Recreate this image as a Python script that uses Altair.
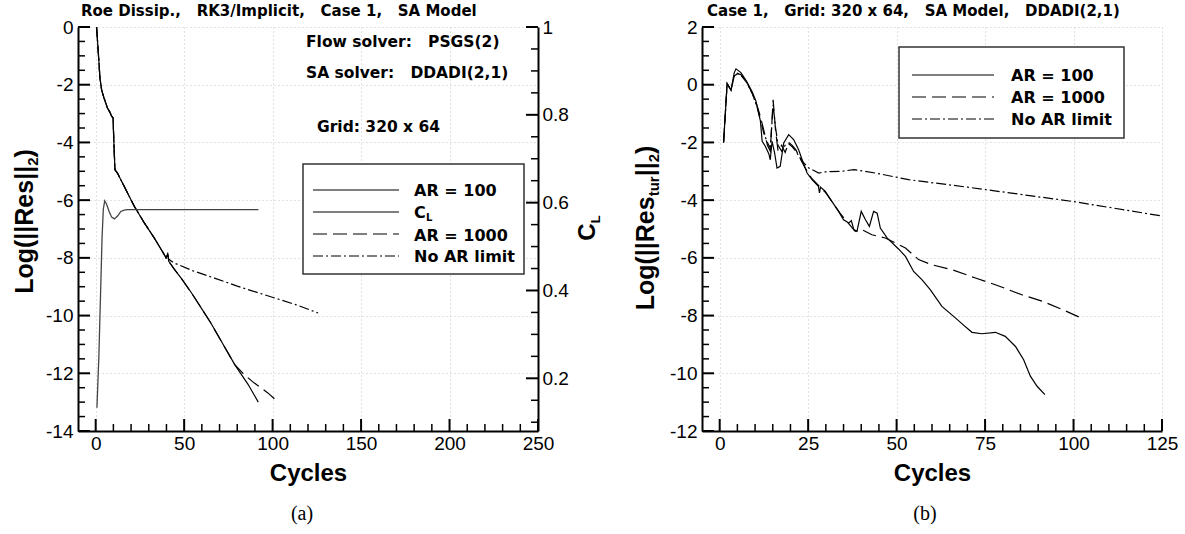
import altair as alt
import pandas as pd

FONT = "Liberation Sans"
TFONT = "DejaVu Sans"
W, H = 460, 404

# ---------------- panel (a) data ----------------
a_ar100_cycles = [0.5, 1.5, 2.4, 3.4, 4.7, 6.6, 8.0, 9.1, 9.8, 10.4, 10.9, 12.3, 14.2, 18.0, 21.8, 27.5, 33.1, 38.8,
                  39.8, 40.7, 41.3, 44.5, 48.3, 54.0, 59.7, 65.0, 71.0, 78.6, 86.2, 91.9]
a_ar100_res = [0.0, -0.9, -1.77, -2.2, -2.46, -2.8, -2.95, -3.1, -3.15, -4.2, -4.95, -5.06, -5.29, -5.75, -6.21, -6.79,
               -7.31, -7.89, -8.0, -7.87, -8.12, -8.4, -8.7, -9.2, -9.74, -10.25, -10.89, -11.7, -12.39, -13.0]

a_ar1000_cycles = [0.5, 1.5, 2.4, 3.4, 4.7, 6.6, 8.0, 9.1, 9.8, 10.4, 10.9, 12.3, 14.2, 18.0, 21.8, 27.5, 33.1, 38.8,
                   39.8, 40.7, 41.3, 44.5, 48.3, 54.0, 59.7, 65.0, 71.0, 78.6, 84.0, 89.7, 97.3, 102.6]
a_ar1000_res = [0.0, -0.9, -1.77, -2.2, -2.46, -2.8, -2.95, -3.1, -3.15, -4.2, -4.95, -5.06, -5.29, -5.75, -6.21, -6.79,
                -7.31, -7.89, -8.0, -7.87, -8.12, -8.4, -8.7, -9.2, -9.74, -10.25, -10.89, -11.7, -12.05, -12.34,
                -12.68, -12.97]

a_noar_cycles = [0.5, 1.5, 2.4, 3.4, 4.7, 6.6, 8.0, 9.1, 9.8, 10.4, 10.9, 12.3, 14.2, 18.0, 21.8, 27.5, 33.1, 38.8,
                 39.8, 40.7, 41.3, 44.4, 55.0, 67.1, 80.0, 101.1, 113.0, 125.7]
a_noar_res = [0.0, -0.9, -1.77, -2.2, -2.46, -2.8, -2.95, -3.1, -3.15, -4.2, -4.95, -5.06, -5.29, -5.75, -6.21, -6.79,
              -7.31, -7.89, -8.0, -7.87, -8.05, -8.18, -8.45, -8.70, -8.98, -9.39, -9.62, -9.91]

a_cl_cycles = [0.7, 1.8, 2.8, 3.6, 4.3, 5.1, 6.0, 7.6, 9.0, 10.6, 12.5, 14.2, 16.0, 18.0, 25.0, 92.0]
a_cl = [0.133, 0.25, 0.40, 0.52, 0.585, 0.604, 0.598, 0.58, 0.567, 0.563, 0.57, 0.58, 0.583, 0.584, 0.584, 0.584]

a_x_major = [0, 50, 100, 150, 200, 250]
a_y_major = [0, -2, -4, -6, -8, -10, -12, -14]
a_cl_major = [0.2, 0.4, 0.6, 0.8, 1.0]

# ---------------- panel (b) data ----------------
b_ar100_cycles = [1.1, 2.1, 3.2, 4.1, 4.6, 6.0, 7.6, 9.2, 10.2, 11.5, 12.0, 12.9, 13.9, 14.3, 14.8, 15.5, 16.2, 17.1,
                  18.1, 19.5, 20.9, 22.3, 23.3, 24.7, 26.1, 27.9, 28.2, 28.5, 29.8, 31.7, 33.6, 35.0, 36.5, 37.2,
                  37.9, 38.8, 40.0, 41.2, 42.3, 43.5, 44.5, 45.4, 47.3, 50.6, 52.5, 54.8, 57.2, 59.5, 62.8, 66.6,
                  69.0, 71.3, 74.1, 77.9, 80.7, 83.6, 85.9, 87.8, 89.7, 91.9]
b_ar100_res = [-2.0, 0.04, -0.19, 0.41, 0.55, 0.42, 0.12, -0.25, -0.55, -1.25, -1.96, -2.13, -2.4, -2.6, -1.96,
               -2.35, -2.89, -2.83, -2.02, -1.73, -1.9, -2.25, -2.6, -3.06, -3.29, -3.52, -3.75, -3.55, -3.69, -4.04,
               -4.39, -4.68, -4.79, -4.71, -5.02, -5.08, -4.39, -4.68, -4.91, -4.39, -4.45, -4.97, -5.31, -5.7,
               -5.95, -6.47, -6.76, -7.1, -7.68, -8.08, -8.34, -8.58, -8.63, -8.58, -8.72, -9.07, -9.53, -10.1,
               -10.45, -10.74]

b_ar1000_cycles = [1.1, 2.1, 3.2, 4.1, 5.0, 6.0, 7.6, 9.2, 10.5, 11.5, 12.5, 13.5, 14.3, 15.1, 15.8, 16.5, 17.5,
                   18.5, 19.5, 20.5, 21.5, 22.5, 24.0, 26.0, 28.0, 30.0, 32.0, 34.0, 36.0, 38.3, 40.2, 43.0, 46.8,
                   52.5, 56.2, 60.0, 65.7, 72.3, 77.9, 85.4, 91.1, 97.0, 102.8]
b_ar1000_res = [-2.0, 0.04, -0.19, 0.3, 0.38, 0.35, 0.1, -0.3, -0.7, -1.1, -1.6, -2.1, -2.3, -0.52, -1.6, -2.3,
                -2.1, -2.35, -2.0, -2.1, -2.25, -2.5, -2.85, -3.25, -3.5, -3.75, -4.1, -4.45, -4.75, -5.08, -5.02,
                -5.2, -5.31, -5.66, -6.06, -6.24, -6.41, -6.7, -6.93, -7.28, -7.5, -7.8, -8.12]

b_noar_cycles = [1.1, 2.1, 3.2, 4.1, 5.0, 6.0, 7.6, 9.2, 10.5, 11.5, 12.5, 13.5, 14.3, 15.1, 15.8, 16.5, 17.5, 18.5,
                 19.5, 20.5, 21.5, 22.5, 23.3, 25.2, 28.0, 29.8, 34.6, 37.9, 44.0, 53.4, 70.0, 100.0, 125.0]
b_noar_res = [-2.0, 0.04, -0.19, 0.3, 0.4, 0.33, 0.08, -0.3, -0.75, -1.2, -1.7, -2.0, -2.2, -0.7, -1.5, -2.1, -2.3,
              -2.1, -2.05, -2.15, -2.3, -2.5, -2.65, -2.89, -3.06, -3.02, -3.0, -2.94, -3.06, -3.29, -3.55, -4.05,
              -4.55]

b_x_major = [0, 25, 50, 75, 100, 125]
b_y_major = [2, 0, -2, -4, -6, -8, -10, -12]

# minor tick positions
a_x_minor = [v for v in range(0, 251, 10) if v % 50]
a_y_minor = [-14 + 0.5 * i for i in range(29) if i % 4]
a_cl_minor = [round(0.1 + 0.05 * i, 2) for i in range(19) if round(0.1 + 0.05 * i, 2) not in a_cl_major]
b_x_minor = [v for v in range(0, 126, 5) if v % 25]
b_y_minor = [-12 + 0.5 * i for i in range(29) if i % 4]

DUMMY = pd.DataFrame({"k": [0]})
DASH = [14, 6]
DASHDOT = [10, 3, 2, 3]
GAP = " \u00a0\u00a0"

AW = {"L": 611, "o": 611, "g": 611, "(": 333, ")": 333, "|": 280, "R": 722, "e": 556, "s": 556,
      "t": 333, "u": 611, "r": 389, "2": 556, "C": 722}


def wtext(s, size):
    return sum(AW[c] for c in s) * size / 1000.0


def series(cyc, val):
    return pd.DataFrame({"cycle": cyc, "value": val})


AX = dict(domainColor="black", domainWidth=2, ticks=False, labelFont=FONT, labelFontSize=19,
          labelColor="black", labelFlush=False, labelOverlap=False, labelExpr="toString(datum.value)")
GRID = dict(grid=True, gridColor="#c4c4c4", gridDash=[1, 3], gridWidth=1)


def line(df, xs, ys, dash=None, color="black", width=1.2, xaxis=alt.Undefined, yaxis=alt.Undefined):
    kw = dict(color=color, strokeWidth=width)
    if dash:
        kw["strokeDash"] = dash
    return alt.Chart(df).mark_line(**kw).encode(
        x=alt.X("cycle:Q", scale=xs, axis=xaxis),
        y=alt.Y("value:Q", scale=ys, axis=yaxis),
    )


def xticks(vals, xs, length, width):
    return alt.Chart(pd.DataFrame({"t": vals})).mark_rule(color="black", strokeWidth=width).encode(
        x=alt.X("t:Q", scale=xs), y=alt.value(H), y2=alt.value(H - length))


def yticks(vals, ys, length, width, right=False):
    x0 = W if right else 0
    x1 = W - length if right else length
    return alt.Chart(pd.DataFrame({"t": vals})).mark_rule(color="black", strokeWidth=width).encode(
        y=alt.Y("t:Q", scale=ys), x=alt.value(x0), x2=alt.value(x1))


def txt(s, x, y, size, weight="bold", align="left", baseline="alphabetic", angle=0, font=FONT):
    props = dict(text=s, fontSize=size, fontWeight=weight, align=align, baseline=baseline, font=font,
                 color="black")
    if angle:
        props["angle"] = angle
    return alt.Chart(DUMMY).mark_text(**props).encode(x=alt.value(x), y=alt.value(y))


def vtitle(parts, bx, cy, main=25):
    total = sum(wtext(s, sz) for s, sz, sub in parts)
    y = cy + total / 2
    out = []
    for s, sz, sub in parts:
        out.append(txt(s, bx + (0.2 * main if sub else 0), y, sz, angle=270))
        y -= wtext(s, sz)
    return out


def box(x1, x2, y1, y2):
    return alt.Chart(DUMMY).mark_rect(fill="white", stroke="#333333", strokeWidth=1.5).encode(
        x=alt.value(x1), x2=alt.value(x2), y=alt.value(y1), y2=alt.value(y2))


def sample(x1, x2, y, dash=None):
    kw = dict(color="black", strokeWidth=1.2)
    if dash:
        kw["strokeDash"] = dash
    return alt.Chart(DUMMY).mark_rule(**kw).encode(x=alt.value(x1), x2=alt.value(x2), y=alt.value(y))


def xaxis_def(values):
    return alt.Axis(values=values, labelPadding=3, title="Cycles", titleFont=FONT, titleFontSize=24,
                    titleFontWeight="bold", titleColor="black", titleY=49, titleBaseline="alphabetic",
                    **AX, **GRID)


# ---------------- panel (a) ----------------
xs_a = alt.Scale(domain=[-10, 250], nice=False, zero=False)
ys_a = alt.Scale(domain=[-14, 0], nice=False, zero=False)
cl_s = alt.Scale(domain=[0.08, 1.0], nice=False, zero=False)

yaxis_a = alt.Axis(values=a_y_major, labelPadding=5, title=None, **AX, **GRID)
claxis = alt.Axis(orient="right", values=a_cl_major, labelPadding=4, title=None, grid=False, **AX)

resid_a = alt.layer(
    line(series(a_ar100_cycles, a_ar100_res), xs_a, ys_a, xaxis=xaxis_def(a_x_major), yaxis=yaxis_a),
    line(series(a_ar1000_cycles, a_ar1000_res), xs_a, ys_a, dash=DASH),
    line(series(a_noar_cycles, a_noar_res), xs_a, ys_a, dash=DASHDOT),
    xticks(a_x_major, xs_a, 12, 2),
    xticks(a_x_minor, xs_a, 7, 1.5),
    yticks(a_y_major, ys_a, 12, 2),
    yticks(a_y_minor, ys_a, 7, 1.5),
    box(225, 446, 137, 247),
    sample(235, 321, 163),
    sample(235, 321, 185),
    sample(235, 321, 207, DASH),
    sample(235, 321, 229, DASHDOT),
    txt("AR = 100", 336, 169, 16, font=TFONT),
    txt("C", 336, 191, 16, font=TFONT),
    txt("L", 348, 194, 10, font=TFONT),
    txt("AR = 1000", 336, 214, 16, font=TFONT),
    txt("No AR limit", 336, 235, 16, font=TFONT),
    txt("Roe Dissip.," + GAP + "RK3/Implicit," + GAP + "Case 1," + GAP + "SA Model", 3, -11.5, 15, font=TFONT),
    txt("Flow solver:" + GAP + "PSGS(2)", 228, 20, 15.5, font=TFONT),
    txt("SA solver:" + GAP + "DDADI(2,1)", 228, 51, 15.5, font=TFONT),
    txt("Grid: 320 x 64", 239, 105, 15.5, font=TFONT),
    txt("(a)", 224, 493, 20, weight="normal", align="center", font="Liberation Serif"),
    *vtitle([("Log(||Res||", 25, False), ("2", 15, True), (")", 25, False)], -45, 194.5),
    *vtitle([("C", 24, False), ("L", 13, True)], 517, 201, main=24),
)

cl_a = alt.layer(
    line(series(a_cl_cycles, a_cl), xs_a, cl_s, color="#444444", width=1.3, yaxis=claxis),
    yticks(a_cl_major, cl_s, 12, 2, right=True),
    yticks(a_cl_minor, cl_s, 7, 1.5, right=True),
)

left = alt.layer(resid_a, cl_a).resolve_scale(y="independent").properties(width=W, height=H)

# ---------------- panel (b) ----------------
xs_b = alt.Scale(domain=[-5, 125], nice=False, zero=False)
ys_b = alt.Scale(domain=[-12, 2], nice=False, zero=False)

yaxis_b = alt.Axis(values=b_y_major, labelPadding=5, title=None, **AX, **GRID)

right = alt.layer(
    line(series(b_ar100_cycles, b_ar100_res), xs_b, ys_b, xaxis=xaxis_def(b_x_major), yaxis=yaxis_b),
    line(series(b_ar1000_cycles, b_ar1000_res), xs_b, ys_b, dash=DASH),
    line(series(b_noar_cycles, b_noar_res), xs_b, ys_b, dash=DASHDOT),
    xticks(b_x_major, xs_b, 12, 2),
    xticks(b_x_minor, xs_b, 7, 1.5),
    yticks(b_y_major, ys_b, 12, 2),
    yticks(b_y_minor, ys_b, 7, 1.5),
    box(197, 422, 20, 111),
    sample(210, 292, 48),
    sample(210, 292, 70, DASH),
    sample(210, 292, 92, DASHDOT),
    txt("AR = 100", 309, 54, 16, font=TFONT),
    txt("AR = 1000", 309, 76, 16, font=TFONT),
    txt("No AR limit", 309, 98, 16, font=TFONT),
    txt("Case 1," + GAP + "Grid: 320 x 64," + GAP + "SA Model," + GAP + "DDADI(2,1)", 5, -11.5, 15, font=TFONT),
    txt("(b)", 223, 493, 20, weight="normal", align="center", font="Liberation Serif"),
    *vtitle([("Log(||Res", 25, False), ("tur", 15, True), ("||", 25, False), ("2", 15, True),
             (")", 25, False)], -48, 201),
).properties(width=W, height=H)

chart = alt.hconcat(left, right, spacing=164, bounds="flush").properties(
    padding={"left": 12, "top": 3, "right": 5, "bottom": 5}
).configure(background="white").configure_view(stroke=None)

chart.save("out.html", embed_options={"renderer": "svg", "actions": False})
